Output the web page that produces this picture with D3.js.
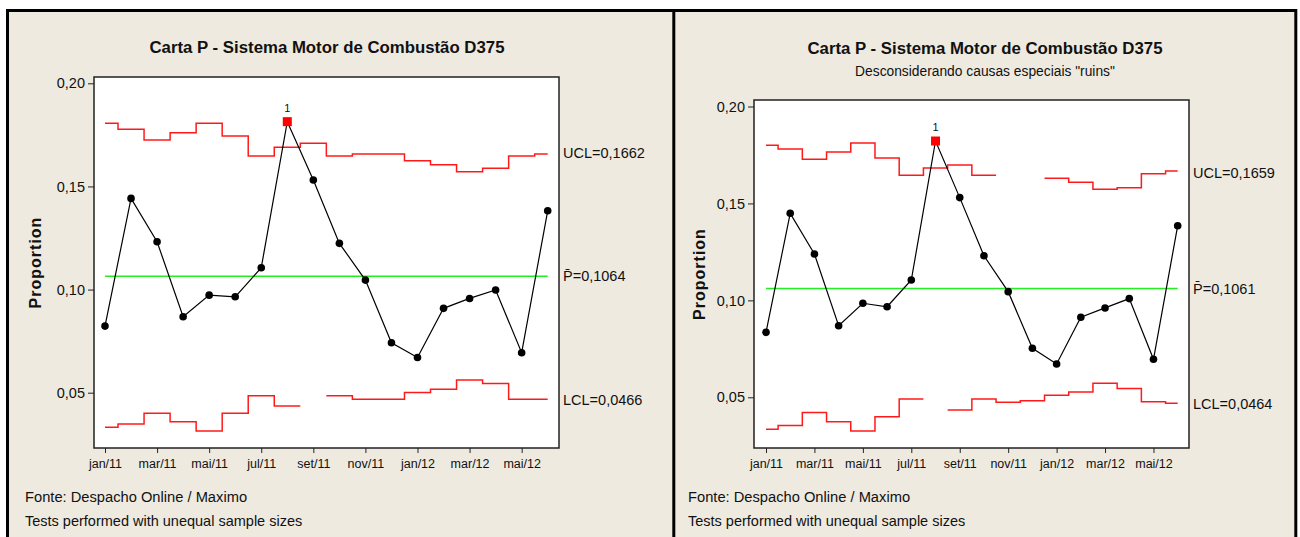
<!DOCTYPE html>
<html>
<head>
<meta charset="utf-8">
<script src="https://cdn.jsdelivr.net/npm/d3@7"></script>
<style>
  html, body { margin: 0; padding: 0; background: #fff; }
  svg { display: block; font-family: "Liberation Sans", Arial, sans-serif; }
</style>
</head>
<body>
<div id="chart"></div>
<script>
// months of the P chart (jan/11 .. jun/12)
const months = ["jan/11", "fev/11", "mar/11", "abr/11", "mai/11", "jun/11", "jul/11", "ago/11", "set/11",
  "out/11", "nov/11", "dez/11", "jan/12", "fev/12", "mar/12", "abr/12", "mai/12", "jun/12"]
const xTickIdx = [0, 2, 4, 6, 8, 10, 12, 14, 16]
const yTicks = [0.05, 0.10, 0.15, 0.20]

// left chart - all causes
const leftP = [0.0823, 0.1442, 0.1232, 0.0868, 0.0973, 0.0965, 0.1106, 0.1814, 0.1531,
  0.1224, 0.1046, 0.0742, 0.0671, 0.0909, 0.0957, 0.0998, 0.0694, 0.1382]
const leftUCL = [0.1806, 0.1777, 0.1725, 0.1760, 0.1806, 0.1744, 0.1647, 0.1690, 0.1709,
  0.1647, 0.1657, 0.1657, 0.1625, 0.1605, 0.1571, 0.1588, 0.1647, 0.1657]
const leftLCL = [0.0332, 0.0348, 0.0400, 0.0359, 0.0314, 0.0400, 0.0485, 0.0435, null,
  0.0485, 0.0468, 0.0468, 0.0501, 0.0517, 0.0561, 0.0545, 0.0468, 0.0468]
const leftLimits = { ucl: 0.1662, center: 0.1064, lcl: 0.0466 }

// right chart - "bad" special causes removed
const rightP = [0.0835, 0.1449, 0.1239, 0.0869, 0.0985, 0.0967, 0.1105, 0.1822, 0.1530,
  0.1230, 0.1045, 0.0753, 0.0672, 0.0913, 0.0961, 0.1009, 0.0696, 0.1385]
const rightUCL = [0.1800, 0.1781, 0.1728, 0.1765, 0.1812, 0.1734, 0.1645, 0.1683, 0.1698,
  0.1645, null, null, 0.1630, 0.1609, 0.1573, 0.1581, 0.1653, 0.1667]
const rightLCL = [0.0335, 0.0354, 0.0421, 0.0374, 0.0326, 0.0400, 0.0491, null, 0.0434,
  0.0491, 0.0474, 0.0482, 0.0510, 0.0527, 0.0572, 0.0546, 0.0477, 0.0469]
const rightLimits = { ucl: 0.1659, center: 0.1061, lcl: 0.0464 }

const outOfControl = [7]

const W = 1300, H = 537
const beige = "#eeeae0"
const ink = "#111"

const svg = d3.select("#chart").append("svg")
  .attr("width", W).attr("height", H)

// panels and their borders
svg.append("rect").attr("x", 7).attr("y", 10).attr("width", 1289).attr("height", H - 10).attr("fill", beige)
const border = [[6, 10.5, 1297, 10.5], [7.5, 9, 7.5, H], [673.8, 9, 673.8, H], [1295.8, 9, 1295.8, H]]
border.forEach(b => {
  svg.append("line")
    .attr("x1", b[0]).attr("y1", b[1]).attr("x2", b[2]).attr("y2", b[3])
    .attr("stroke", "#000").attr("stroke-width", 3)
})

const fmt = v => d3.format(".2f")(v).replace(".", ",")
const fmt4 = v => d3.format(".4f")(v).replace(".", ",")

function drawPanel(cfg) {
  const x = d3.scaleLinear().domain([0, months.length - 1]).range(cfg.xRange)
  const y = d3.scaleLinear().domain([0.05, 0.20]).range(cfg.yRange)
  const f = cfg.frame

  const g = svg.append("g")

  // titles
  g.append("text")
    .attr("x", cfg.titleX).attr("y", cfg.titleY)
    .attr("text-anchor", "middle")
    .attr("font-size", "16.8px").attr("font-weight", "bold").attr("fill", ink)
    .text("Carta P - Sistema Motor de Combustão D375")
  if (cfg.subtitle) {
    g.append("text")
      .attr("x", cfg.titleX).attr("y", cfg.titleY + 22)
      .attr("text-anchor", "middle")
      .attr("font-size", "13.8px").attr("fill", ink)
      .text(cfg.subtitle)
  }

  // plot frame
  g.append("rect")
    .attr("x", f.left).attr("y", f.top)
    .attr("width", f.right - f.left).attr("height", f.bottom - f.top)
    .attr("fill", "#fff").attr("stroke", "#222").attr("stroke-width", 1.5)

  // axes
  const yAxis = g.append("g")
    .attr("transform", `translate(${f.left},0)`)
    .call(d3.axisLeft(y).tickValues(yTicks).tickFormat(fmt).tickSize(6).tickPadding(3))
  yAxis.select(".domain").remove()
  yAxis.selectAll("line").attr("stroke", "#222")
  yAxis.selectAll("text").attr("font-size", "14.5px").attr("fill", ink)
    .attr("font-family", "\"Liberation Sans\", Arial, sans-serif")

  const xAxis = g.append("g")
    .attr("transform", `translate(0,${f.bottom})`)
    .call(d3.axisBottom(x).tickValues(xTickIdx).tickFormat(i => months[i]).tickSize(5).tickPadding(6))
  xAxis.select(".domain").remove()
  xAxis.selectAll("line").attr("stroke", "#222")
  xAxis.selectAll("text").attr("font-size", "12.5px").attr("fill", ink)
    .attr("font-family", "\"Liberation Sans\", Arial, sans-serif")

  g.append("text")
    .attr("transform", `translate(${cfg.yLabelX},${(f.top + f.bottom) / 2}) rotate(-90)`)
    .attr("text-anchor", "middle")
    .attr("font-size", "16px").attr("font-weight", "bold").attr("fill", ink)
    .attr("letter-spacing", "1px")
    .text("Proportion")

  // step control limits, one step per sample
  const last = months.length - 1
  function stepPath(vals) {
    const p = d3.path()
    let prev = false
    vals.forEach((v, i) => {
      if (v == null) { prev = false; return }
      const x0 = x(Math.max(0, i - 0.5)), x1 = x(Math.min(last, i + 0.5))
      if (prev) p.lineTo(x0, y(v))
      else p.moveTo(x0, y(v))
      p.lineTo(x1, y(v))
      prev = true
    })
    return p.toString()
  }
  ;[cfg.ucl, cfg.lcl].forEach(vals => {
    g.append("path")
      .attr("d", stepPath(vals))
      .attr("fill", "none").attr("stroke", "#ff1a1a").attr("stroke-width", 1.5)
  })

  // center line
  g.append("line")
    .attr("x1", x(0)).attr("x2", x(last))
    .attr("y1", y(cfg.limits.center)).attr("y2", y(cfg.limits.center))
    .attr("stroke", "#22ee22").attr("stroke-width", 1.5)

  // proportion series
  const line = d3.line().x((d, i) => x(i)).y(d => y(d))
  g.append("path")
    .attr("d", line(cfg.p))
    .attr("fill", "none").attr("stroke", "#000").attr("stroke-width", 1.2)

  cfg.p.forEach((v, i) => {
    if (outOfControl.includes(i)) {
      g.append("rect")
        .attr("x", x(i) - 4.5).attr("y", y(v) - 4.5)
        .attr("width", 9).attr("height", 9)
        .attr("fill", "#ff0000")
      g.append("text")
        .attr("x", x(i)).attr("y", y(v) - 10)
        .attr("text-anchor", "middle")
        .attr("font-size", "11px").attr("fill", ink)
        .text("1")
    } else {
      g.append("circle")
        .attr("cx", x(i)).attr("cy", y(v)).attr("r", 3.8)
        .attr("fill", "#000")
    }
  })

  // limit labels on the right
  const lx = f.right + 4
  const labels = [
    ["UCL=" + fmt4(cfg.limits.ucl), cfg.limits.ucl],
    ["P\u0304=" + fmt4(cfg.limits.center), cfg.limits.center],
    ["LCL=" + fmt4(cfg.limits.lcl), cfg.limits.lcl]
  ]
  labels.forEach(([t, v]) => {
    g.append("text")
      .attr("x", lx).attr("y", y(v)).attr("dy", "0.35em")
      .attr("font-size", "14.5px").attr("fill", ink)
      .text(t)
  })

  // footer notes
  g.append("text")
    .attr("x", cfg.footX).attr("y", 502)
    .attr("font-size", "14.7px").attr("fill", ink)
    .text("Fonte: Despacho Online / Maximo")
  g.append("text")
    .attr("x", cfg.footX).attr("y", 526)
    .attr("font-size", "14.5px").attr("fill", ink)
    .text("Tests performed with unequal sample sizes")
}

drawPanel({
  frame: { left: 94, right: 559, top: 77, bottom: 448 },
  xRange: [105, 547.7],
  yRange: [392.7, 83.3],
  titleX: 327, titleY: 53,
  yLabelX: 41,
  footX: 25,
  p: leftP, ucl: leftUCL, lcl: leftLCL, limits: leftLimits
})

drawPanel({
  frame: { left: 754, right: 1189, top: 100, bottom: 448 },
  xRange: [766, 1177.7],
  yRange: [397.3, 106.5],
  titleX: 985, titleY: 54,
  subtitle: "Desconsiderando causas especiais \"ruins\"",
  yLabelX: 705,
  footX: 688,
  p: rightP, ucl: rightUCL, lcl: rightLCL, limits: rightLimits
})
</script>
</body>
</html>
